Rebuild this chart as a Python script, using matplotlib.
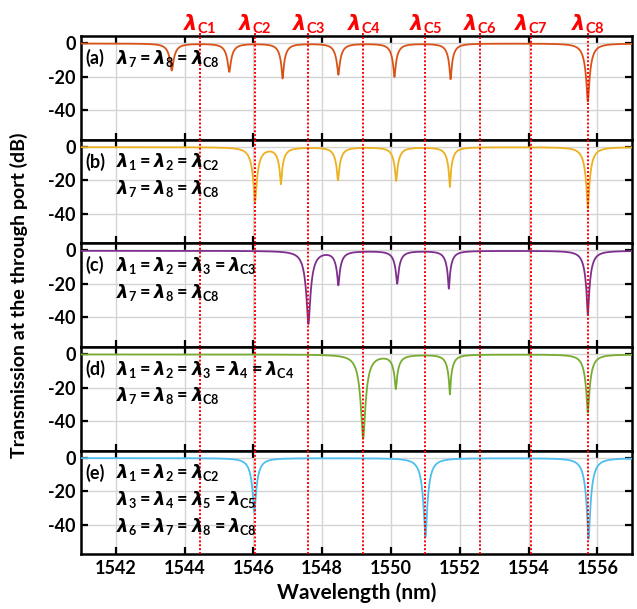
import numpy as np
import matplotlib
matplotlib.use("Agg")
import matplotlib.pyplot as plt

plt.rcParams['font.family'] = ['Lato', 'DejaVu Sans']
plt.rcParams['font.weight'] = 'bold'
plt.rcParams['axes.unicode_minus'] = False
plt.rcParams['mathtext.fontset'] = 'custom'
plt.rcParams['mathtext.rm'] = 'Lato:bold'
plt.rcParams['mathtext.bf'] = 'Lato:bold'
plt.rcParams['mathtext.it'] = 'DejaVu Sans:bold:italic'

# ---------------- data ----------------
lambda_c = [1544.44, 1546.05, 1547.60, 1549.20, 1551.00, 1552.58, 1554.07, 1555.73]
lambda_c_labels = ['C1', 'C2', 'C3', 'C4', 'C5', 'C6', 'C7', 'C8']

# dip centres (nm), total depth (dB), number of coincident rings
a_centers = [1543.63, 1545.30, 1546.85, 1548.47, 1550.10, 1551.73, 1555.72]
a_depths = [16.0, 16.8, 20.7, 18.5, 19.8, 21.2, 34.5]
a_rings = [1, 1, 1, 1, 1, 1, 2]

b_centers = [1546.05, 1546.80, 1548.46, 1550.15, 1551.71, 1555.72]
b_depths = [32.0, 21.6, 19.6, 20.0, 23.6, 36.6]
b_rings = [2, 1, 1, 1, 1, 2]

c_centers = [1547.60, 1548.47, 1550.18, 1551.68, 1555.72]
c_depths = [43.4, 20.0, 19.4, 22.4, 38.0]
c_rings = [3, 1, 1, 1, 2]

d_centers = [1549.19, 1550.14, 1551.71, 1555.72]
d_depths = [50.0, 20.0, 23.6, 34.6]
d_rings = [4, 1, 1, 2]

e_centers = [1546.03, 1551.00, 1555.74]
e_depths = [32.0, 47.0, 48.0]
e_rings = [2, 3, 3]

ring_halfwidth = 0.18  # nm

colors = ['#D95319', '#EDB120', '#7E2F8E', '#77AC30', '#4DBEEE']
panel_tags = ['(a)', '(b)', '(c)', '(d)', '(e)']
panel_lines = [
    [r'$\lambda_7 = \lambda_8 = \lambda_{\mathrm{C8}}$'],
    [r'$\lambda_1 = \lambda_2 = \lambda_{\mathrm{C2}}$',
     r'$\lambda_7 = \lambda_8 = \lambda_{\mathrm{C8}}$'],
    [r'$\lambda_1 = \lambda_2 = \lambda_3 = \lambda_{\mathrm{C3}}$',
     r'$\lambda_7 = \lambda_8 = \lambda_{\mathrm{C8}}$'],
    [r'$\lambda_1 = \lambda_2 = \lambda_3 = \lambda_4 = \lambda_{\mathrm{C4}}$',
     r'$\lambda_7 = \lambda_8 = \lambda_{\mathrm{C8}}$'],
    [r'$\lambda_1 = \lambda_2 = \lambda_{\mathrm{C2}}$',
     r'$\lambda_3 = \lambda_4 = \lambda_5 = \lambda_{\mathrm{C5}}$',
     r'$\lambda_6 = \lambda_7 = \lambda_8 = \lambda_{\mathrm{C8}}$'],
]
panels = [(a_centers, a_depths, a_rings), (b_centers, b_depths, b_rings),
          (c_centers, c_depths, c_rings), (d_centers, d_depths, d_rings),
          (e_centers, e_depths, e_rings)]

xticks = [1542, 1544, 1546, 1548, 1550, 1552, 1554, 1556]
yticks = [0, -20, -40]

wl = np.linspace(1541, 1557, 8001)


def spectrum(centers, depths, rings):
    out = np.full_like(wl, -0.3)
    for c, d, n in zip(centers, depths, rings):
        amp = 1 - 10 ** (-d / (10.0 * n))
        t = 1 - amp / (1 + ((wl - c) / ring_halfwidth) ** 2)
        out += n * 10 * np.log10(t)
    return out


fig = plt.figure(figsize=(6.37, 6.09), dpi=100)
gs = fig.add_gridspec(5, 1, left=0.1276, right=0.992, top=0.941, bottom=0.090, hspace=0)
axes = [fig.add_subplot(gs[i]) for i in range(5)]

for i, ax in enumerate(axes):
    centers, depths, rings = panels[i]
    ax.plot(wl, spectrum(centers, depths, rings), color=colors[i], lw=1.3, zorder=3)
    ax.set_xlim(1541, 1557)
    ax.set_ylim(-57.5, 4.2)
    ax.set_xticks(xticks)
    ax.set_yticks(yticks)
    ax.grid(True, color='#d4d4d4', lw=1.0, zorder=0)
    ax.tick_params(direction='in', length=5, width=1.6, top=True, right=True,
                   labelsize=13, pad=4)
    for sp in ax.spines.values():
        sp.set_linewidth(1.8)
    if i < 4:
        ax.tick_params(labelbottom=False)
    for lc in lambda_c:
        ax.axvline(lc, color='red', ls=(0, (1, 1)), lw=1.4, zorder=4,
                   ymax=1.05 if i == 0 else 1.0, clip_on=False)
    ax.text(1541.12, -9, panel_tags[i], fontsize=13, fontweight='bold', va='center',
            ha='left', zorder=5)
    for k, s in enumerate(panel_lines[i]):
        ax.text(1542.0, -9 - 16 * k, s, fontsize=13, va='center', ha='left', zorder=5)

for lc, lab in zip(lambda_c, lambda_c_labels):
    axes[0].text(lc, 11.0, r'$\lambda_{\mathrm{%s}}$' % lab, color='red', fontsize=15,
                 ha='center', va='center', clip_on=False)

axes[-1].set_xlabel('Wavelength (nm)', fontsize=15, fontweight='bold', labelpad=4)
fig.text(0.03, (0.941 + 0.090) / 2, 'Transmission at the through port (dB)',
         rotation=90, fontsize=14, fontweight='bold', ha='center', va='center')

fig.savefig('out.png', dpi=100)
